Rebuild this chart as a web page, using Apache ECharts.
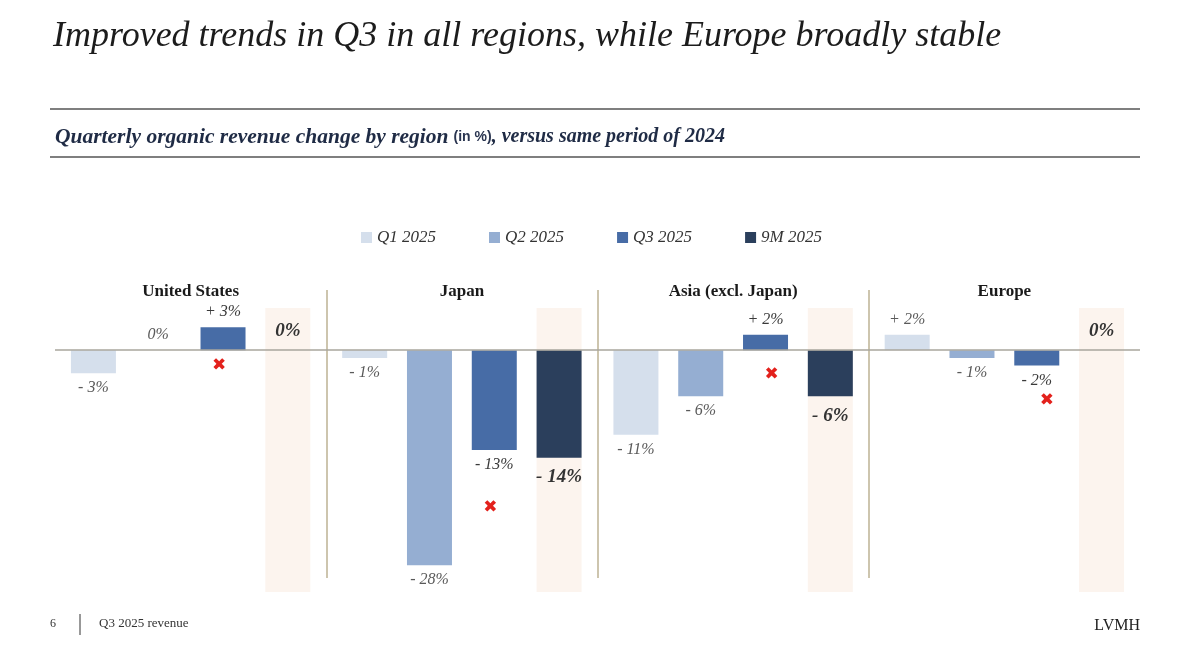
<!DOCTYPE html>
<html>
<head>
<meta charset="utf-8">
<script src="https://cdn.jsdelivr.net/npm/echarts@6/dist/echarts.min.js"></script>
<style>
html,body{margin:0;padding:0;background:#fff;}
#c{width:1200px;height:653px;}
</style>
</head>
<body>
<div id="c"></div>
<script>
const regions = ['United States', 'Japan', 'Asia (excl. Japan)', 'Europe'];
const seriesNames = ['Q1 2025', 'Q2 2025', 'Q3 2025', '9M 2025'];
const q1 = [-3, -1, -11, 2];
const q2 = [0, -28, -6, -1];
const q3 = [3, -13, 2, -2];
const m9 = [0, -14, -6, 0];
// hand-drawn red crosses near the Q3 bars (value position, pixel nudge)
const crossY = [-2, -20.5, -3.2, -6.6];
const crossNudge = [-4, -4, 6, 10];

const colors = ['#d5dfec', '#95aed2', '#476ca6', '#2b3f5c'];
const serif = '"Liberation Serif", "DejaVu Serif", serif';

function fmt(v) {
  if (v > 0) return '+ ' + v + '%';
  if (v < 0) return '- ' + Math.abs(v) + '%';
  return '0%';
}

function makeData(arr, dist) {
  return arr.map(v => ({
    value: v,
    label: { position: v < 0 ? 'bottom' : 'top', distance: dist }
  }));
}

const labelBase = {
  show: true,
  fontFamily: serif,
  fontStyle: 'italic',
  fontSize: 16,
  color: '#5a5a5a',
  formatter: p => fmt(p.value)
};

const values = [q1, q2, q3, m9];
const series = values.map((arr, i) => {
  const s = {
    name: seriesNames[i],
    type: 'bar',
    xAxisIndex: 0,
    yAxisIndex: 0,
    barWidth: 45,
    barGap: '44%',
    itemStyle: { color: colors[i] },
    data: makeData(arr, i === 3 ? 10 : 7),
    label: Object.assign({}, labelBase),
    z: 3
  };
  if (i === 2) s.label.color = '#3a3a3a';
  if (i === 3) {
    s.label = Object.assign({}, labelBase, { fontWeight: 'bold', fontSize: 19, color: '#333333' });
    s.showBackground = true;
    s.backgroundStyle = { color: '#fcf4ee' };
  }
  if (i === 0) {
    s.markLine = {
      silent: true,
      symbol: 'none',
      label: { show: false },
      lineStyle: { color: '#a8a69c', width: 1.5, type: 'solid' },
      data: [{ yAxis: 0 }],
      z: 5
    };
  }
  if (i === 2) {
    s.markPoint = {
      silent: true,
      symbol: 'circle',
      symbolSize: 0,
      label: {
        show: true,
        formatter: '\u2716',
        color: '#e3211c',
        fontSize: 17,
        fontFamily: '"DejaVu Sans", sans-serif'
      },
      data: regions.map((r, k) => ({
        coord: [r, crossY[k]],
        label: { offset: [crossNudge[k], 0] }
      }))
    };
  }
  return s;
});

// empty series for the separator grid
series.push({ type: 'scatter', xAxisIndex: 1, yAxisIndex: 1, data: [], silent: true });

const chart = echarts.init(document.getElementById('c'));
chart.setOption({
  backgroundColor: '#ffffff',
  animation: false,
  title: [
    {
      text: 'Improved trends in Q3 in all regions, while Europe broadly stable',
      left: 48,
      top: 14,
      textStyle: { fontFamily: serif, fontStyle: 'italic', fontWeight: 'normal', fontSize: 36, color: '#1c1c1c' }
    },
    {
      text: '{b|Quarterly organic revenue change by region} {n|(in %)}{i|, versus same period of 2024}',
      left: 50,
      top: 121,
      textStyle: {
        rich: {
          b: { fontFamily: serif, fontStyle: 'italic', fontWeight: 'bold', fontSize: 21.5, color: '#1f2b45' },
          n: { fontFamily: '"Liberation Sans", "DejaVu Sans", sans-serif', fontSize: 14, color: '#2a3550' },
          i: { fontFamily: serif, fontStyle: 'italic', fontSize: 20, color: '#1f2b45' }
        }
      }
    }
  ],
  legend: {
    data: seriesNames,
    left: 356,
    top: 224,
    itemWidth: 11,
    itemHeight: 11,
    itemGap: 53,
    icon: 'rect',
    selectedMode: false,
    textStyle: { fontFamily: serif, fontStyle: 'italic', fontSize: 17, color: '#333333', padding: [0, 0, 0, 0] }
  },
  grid: [
    { left: 55, right: 60, top: 308, bottom: 61 },
    { left: 55, right: 60, top: 290, bottom: 75 }
  ],
  xAxis: [
    {
      type: 'category',
      gridIndex: 0,
      data: regions,
      position: 'top',
      axisLine: { show: false, onZero: false },
      axisTick: { show: false },
      splitLine: { show: false },
      axisLabel: { margin: 8, fontFamily: serif, fontWeight: 'bold', fontSize: 17, color: '#1a1a1a' }
    },
    {
      type: 'value',
      gridIndex: 1,
      min: 0,
      max: 4,
      interval: 1,
      axisLine: { show: false },
      axisTick: { show: false },
      axisLabel: { show: false },
      splitLine: { show: true, showMinLine: false, showMaxLine: false, lineStyle: { color: '#bdb293', width: 1.5 } }
    }
  ],
  yAxis: [
    { type: 'value', gridIndex: 0, min: -31.5, max: 5.5, show: false },
    { type: 'value', gridIndex: 1, min: 0, max: 1, show: false }
  ],
  graphic: [
    { type: 'line', shape: { x1: 50, y1: 109, x2: 1140, y2: 109 }, style: { stroke: '#555555', lineWidth: 1.5 } },
    { type: 'line', shape: { x1: 50, y1: 157, x2: 1140, y2: 157 }, style: { stroke: '#555555', lineWidth: 1.5 } },
    { type: 'text', left: 50, top: 618, style: { text: '6', font: '12px "Liberation Serif", serif', fill: '#333' } },
    { type: 'line', shape: { x1: 80, y1: 614, x2: 80, y2: 635 }, style: { stroke: '#333333', lineWidth: 1 } },
    { type: 'text', left: 99, top: 617, style: { text: 'Q3 2025 revenue', font: '13px "Liberation Serif", serif', fill: '#333' } },
    { type: 'text', right: 60, top: 618, style: { text: 'LVMH', font: '16px "Liberation Serif", serif', fill: '#222' } }
  ],
  series: series
});
</script>
</body>
</html>
